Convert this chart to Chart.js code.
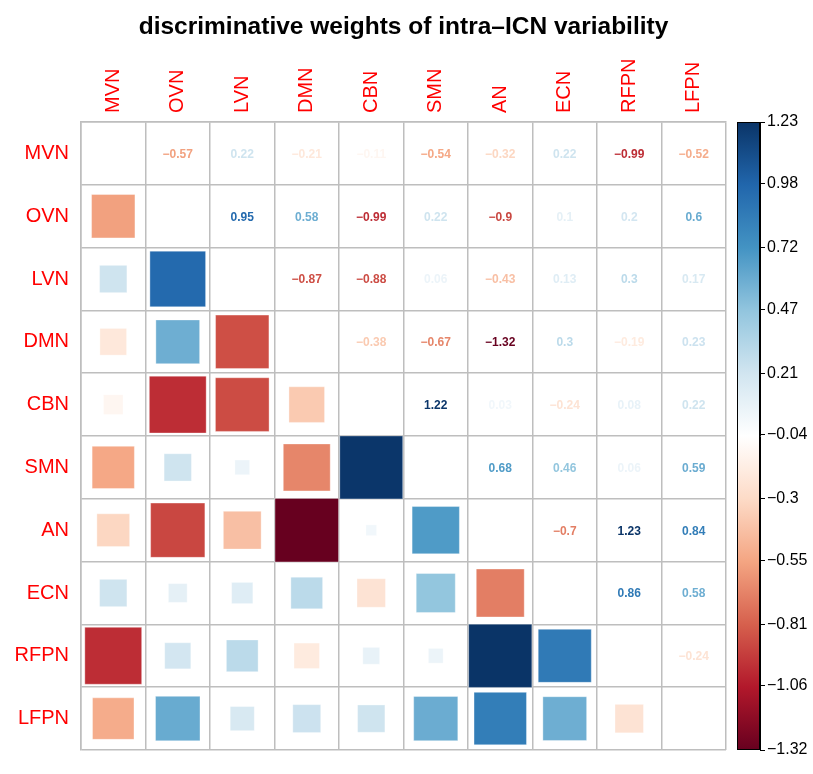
<!DOCTYPE html>
<html>
<head>
<meta charset="utf-8">
<title>discriminative weights of intra-ICN variability</title>
<script src="https://cdn.jsdelivr.net/npm/chart.js@4.4.1/dist/chart.umd.min.js"></script>
<style>
  html, body { margin: 0; padding: 0; background: #fff; }
  #wrap { width: 813px; height: 774px; position: relative; }
</style>
</head>
<body>
<div id="wrap"><canvas id="corr"></canvas></div>
<script>
// network names (rows and columns)
const networks = ['MVN', 'OVN', 'LVN', 'DMN', 'CBN', 'SMN', 'AN', 'ECN', 'RFPN', 'LFPN'];

// symmetric weight matrix, diagonal left empty
const weights = [
  [null, -0.57, 0.22, -0.21, -0.11, -0.54, -0.32, 0.22, -0.99, -0.52],
  [-0.57, null, 0.95, 0.58, -0.99, 0.22, -0.9, 0.1, 0.2, 0.6],
  [0.22, 0.95, null, -0.87, -0.88, 0.06, -0.43, 0.13, 0.3, 0.17],
  [-0.21, 0.58, -0.87, null, -0.38, -0.67, -1.32, 0.3, -0.19, 0.23],
  [-0.11, -0.99, -0.88, -0.38, null, 1.22, 0.03, -0.24, 0.08, 0.22],
  [-0.54, 0.22, 0.06, -0.67, 1.22, null, 0.68, 0.46, 0.06, 0.59],
  [-0.32, -0.9, -0.43, -1.32, 0.03, 0.68, null, -0.7, 1.23, 0.84],
  [0.22, 0.1, 0.13, 0.3, -0.24, 0.46, -0.7, null, 0.86, 0.58],
  [-0.99, 0.2, 0.3, -0.19, 0.08, 0.06, 1.23, 0.86, null, -0.24],
  [-0.52, 0.6, 0.17, 0.23, 0.22, 0.59, 0.84, 0.58, -0.24, null]
];

// colour bar range and tick labels
const colorMin = -1.32;
const colorMax = 1.23;
const barTicks = [-1.32, -1.06, -0.81, -0.55, -0.3, -0.04, 0.21, 0.47, 0.72, 0.98, 1.23];

// RdBu palette, red (low) to blue (high)
const palette = ['#67001F', '#B2182B', '#D6604D', '#F4A582', '#FDDBC7', '#FFFFFF',
                 '#D1E5F0', '#92C5DE', '#4393C3', '#2166AC', '#0A3467'];

const FONT = '"Liberation Sans", Arial, Helvetica, sans-serif';
const GRID = '#bebebe';

function hexToRgb(h) {
  return [parseInt(h.slice(1, 3), 16), parseInt(h.slice(3, 5), 16), parseInt(h.slice(5, 7), 16)];
}

function colorFor(v) {
  let t = (v - colorMin) / (colorMax - colorMin);
  t = Math.max(0, Math.min(1, t)) * (palette.length - 1);
  const i = Math.min(palette.length - 2, Math.floor(t));
  const f = t - i;
  const a = hexToRgb(palette[i]), b = hexToRgb(palette[i + 1]);
  const c = a.map((x, k) => Math.round(x + (b[k] - x) * f));
  return `rgb(${c[0]},${c[1]},${c[2]})`;
}

function fmt(v) {
  return String(v).replace('-', '\u2212');
}

// lower triangle -> squares
const squares = [];
weights.forEach((row, i) => {
  row.forEach((v, j) => {
    if (j < i && v !== null) squares.push({ x: networks[j], y: networks[i], v: v });
  });
});

// upper triangle numbers + colour bar
const matrixExtras = {
  id: 'matrixExtras',
  afterDatasetsDraw(chart) {
    const { ctx } = chart;
    const xs = chart.scales.x, ys = chart.scales.y;
    ctx.save();
    ctx.font = `bold 12px ${FONT}`;
    ctx.textAlign = 'center';
    ctx.textBaseline = 'middle';
    weights.forEach((row, i) => {
      row.forEach((v, j) => {
        if (j > i && v !== null) {
          ctx.fillStyle = colorFor(v);
          ctx.fillText(fmt(v), xs.getPixelForValue(j), ys.getPixelForValue(i) + 1);
        }
      });
    });
    ctx.restore();
  },
  afterDraw(chart) {
    const { ctx } = chart;
    const cb = chart.scales.cbar;
    const top = cb.getPixelForValue(colorMax);
    const bottom = cb.getPixelForValue(colorMin);
    const right = cb.left;
    const left = right - 23;
    const grad = ctx.createLinearGradient(0, bottom, 0, top);
    palette.forEach((c, k) => grad.addColorStop(k / (palette.length - 1), c));
    ctx.save();
    ctx.fillStyle = grad;
    ctx.fillRect(left, top, right - left, bottom - top);
    ctx.strokeStyle = '#000';
    ctx.lineWidth = 1;
    ctx.strokeRect(left + 0.5, top + 0.5, right - left - 1, bottom - top - 1);
    ctx.restore();
  }
};

new Chart(document.getElementById('corr'), {
  type: 'scatter',
  data: {
    datasets: [{
      data: squares,
      pointStyle: 'rect',
      pointRadius: (c) => {
        if (!c.raw) return 0;
        const xs = c.chart.scales.x;
        const cell = Math.abs(xs.getPixelForValue(1) - xs.getPixelForValue(0));
        const ratio = Math.abs(c.raw.v) / Math.max(-colorMin, colorMax);
        const side = Math.min(cell, cell * Math.sqrt(ratio) + 2) - 1;
        return side / 2 / Math.SQRT1_2;
      },
      pointHoverRadius: 0,
      backgroundColor: (c) => c.raw ? colorFor(c.raw.v) : '#fff',
      borderColor: 'rgba(255,255,255,0.35)',
      borderWidth: 1
    }]
  },
  options: {
    responsive: true,
    maintainAspectRatio: false,
    animation: false,
    events: [],
    layout: { padding: { left: 0, right: 0, top: 0, bottom: 7 } },
    plugins: {
      legend: { display: false },
      tooltip: { enabled: false },
      title: {
        display: true,
        fullSize: false,
        text: 'discriminative weights of intra\u2013ICN variability',
        color: '#000',
        font: { family: FONT, size: 24.5, weight: 'bold', lineHeight: 1.2 },
        padding: { top: 13, bottom: 7.6 }
      }
    },
    scales: {
      x: {
        type: 'category',
        labels: networks,
        position: 'top',
        offset: true,
        grid: { offset: true, color: GRID, lineWidth: 1.5, drawTicks: false },
        border: { color: GRID, width: 1.5 },
        ticks: {
          color: '#ff0000',
          font: { family: FONT, size: 20 },
          minRotation: 90,
          maxRotation: 90,
          autoSkip: false,
          labelOffset: 24,
          padding: 9
        },
        afterFit: (s) => { s.height = 72; }
      },
      y: {
        type: 'category',
        labels: networks,
        offset: true,
        grid: { offset: true, color: GRID, lineWidth: 1.5, drawTicks: false },
        border: { color: GRID, width: 1.5 },
        ticks: {
          color: '#ff0000',
          font: { family: FONT, size: 20 },
          autoSkip: false,
          padding: 12
        },
        afterFit: (s) => { s.width = 81; }
      },
      gap: {
        type: 'linear',
        position: 'right',
        weight: 0,
        min: colorMin,
        max: colorMax,
        grid: { display: false },
        border: { display: false },
        ticks: { display: false },
        afterFit: (s) => { s.width = 34; }
      },
      cbar: {
        type: 'linear',
        position: 'right',
        weight: 1,
        min: colorMin,
        max: colorMax,
        afterBuildTicks: (s) => { s.ticks = barTicks.map(v => ({ value: v })); },
        grid: { drawOnChartArea: false, color: '#000', tickLength: 5, lineWidth: 1 },
        border: { display: true, color: '#000', width: 1 },
        ticks: {
          color: '#000',
          font: { family: FONT, size: 16 },
          padding: 2,
          callback: (v) => fmt(v)
        },
        afterFit: (s) => { s.width = 53; }
      }
    }
  },
  plugins: [matrixExtras]
});
</script>
</body>
</html>
